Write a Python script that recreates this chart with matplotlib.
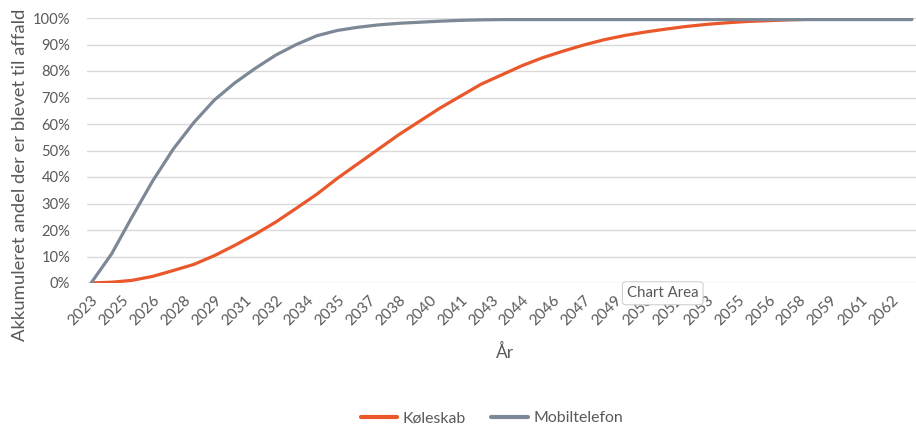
import matplotlib
matplotlib.use("Agg")
import matplotlib.pyplot as plt
import numpy as np

plt.rcParams['font.family'] = ['Lato', 'DejaVu Sans']

years = list(range(2023, 2064))
koleskab = [0, 0.3, 1, 2.5, 4.7, 7, 10.3, 14.2, 18.4, 23, 28.2, 33.5, 39.5, 45,
            50.5, 56, 61, 66, 70.5, 75, 78.5, 82, 85, 87.5, 89.8, 91.8, 93.4,
            94.7, 95.8, 96.8, 97.6, 98.2, 98.7, 99.0, 99.3, 99.5, 99.7, 99.8,
            99.9, 100, 100]
mobiltelefon = [0, 11, 25, 38.5, 50.5, 60.5, 69, 75.5, 81, 86, 90, 93.3, 95.3,
                96.5, 97.4, 98, 98.4, 98.8, 99.1, 99.3, 99.4, 99.4, 99.4, 99.4,
                99.4, 99.4, 99.4, 99.4, 99.4, 99.4, 99.4, 99.4, 99.4, 99.4, 99.4,
                99.4, 99.4, 99.4, 99.4, 99.4, 99.4]
tick_positions = [2023 + 1.5 * k for k in range(27)]
tick_labels = ['2023', '2025', '2026', '2028', '2029', '2031', '2032', '2034',
               '2035', '2037', '2038', '2040', '2041', '2043', '2044', '2046',
               '2047', '2049', '2050', '2052', '2053', '2055', '2056', '2058',
               '2059', '2061', '2062']
y_ticks = list(range(0, 101, 10))

text_color = '#595959'
orange = '#E9572B'
gray = '#7D8896'

fig = plt.figure(figsize=(9.16, 4.25), dpi=100)
ax = fig.add_axes([87 / 916, 142 / 425, 829 / 916, 265 / 425])

ax.plot(years, koleskab, color=orange, lw=2.3, label='Køleskab',
        solid_capstyle='round', zorder=3)
ax.plot(years, mobiltelefon, color=gray, lw=2.3, label='Mobiltelefon',
        solid_capstyle='round', zorder=3)

ax.set_xlim(2022.8, 2063.2)
ax.set_ylim(0, 100)
ax.set_yticks(y_ticks)
ax.set_yticklabels([f'{v}%' for v in y_ticks])
ax.set_xticks(tick_positions)
ax.set_xticklabels(tick_labels, rotation=45, ha='right', rotation_mode='anchor')
ax.tick_params(axis='both', length=0, colors=text_color)
ax.tick_params(axis='x', pad=7, labelsize=11)
ax.tick_params(axis='y', pad=12, labelsize=10.6)
ax.grid(axis='y', color='#D9D9D9', lw=1)
ax.grid(axis='x', visible=False)
ax.set_axisbelow(True)
for s in ax.spines.values():
    s.set_visible(False)

ax.set_ylabel('Akkumuleret andel der er blevet til affald', color=text_color,
              fontsize=13.3, va='center')
ax.yaxis.set_label_coords(-67 / 829, (283 - 175) / 265)
ax.set_xlabel('År', color=text_color, fontsize=12.5, va='center')
ax.xaxis.set_label_coords((505 - 87) / 829, -(352 - 283) / 265)

leg = fig.legend(loc='center', bbox_to_anchor=(0.537, 0.016), ncol=2,
                 frameon=False, fontsize=11.4, handlelength=2.3,
                 columnspacing=1.6, handletextpad=0.35)
for t in leg.get_texts():
    t.set_color(text_color)
for h in leg.legend_handles:
    h.set_linewidth(3)

fig.text(0.7235, 0.31, 'Chart Area', fontsize=10.8, color=text_color,
         ha='center', va='center', zorder=10,
         bbox=dict(boxstyle='round,pad=0.3,rounding_size=0.2', fc='white',
                   ec='#D0D0D0', lw=0.8))

fig.savefig('out.png', dpi=100)
